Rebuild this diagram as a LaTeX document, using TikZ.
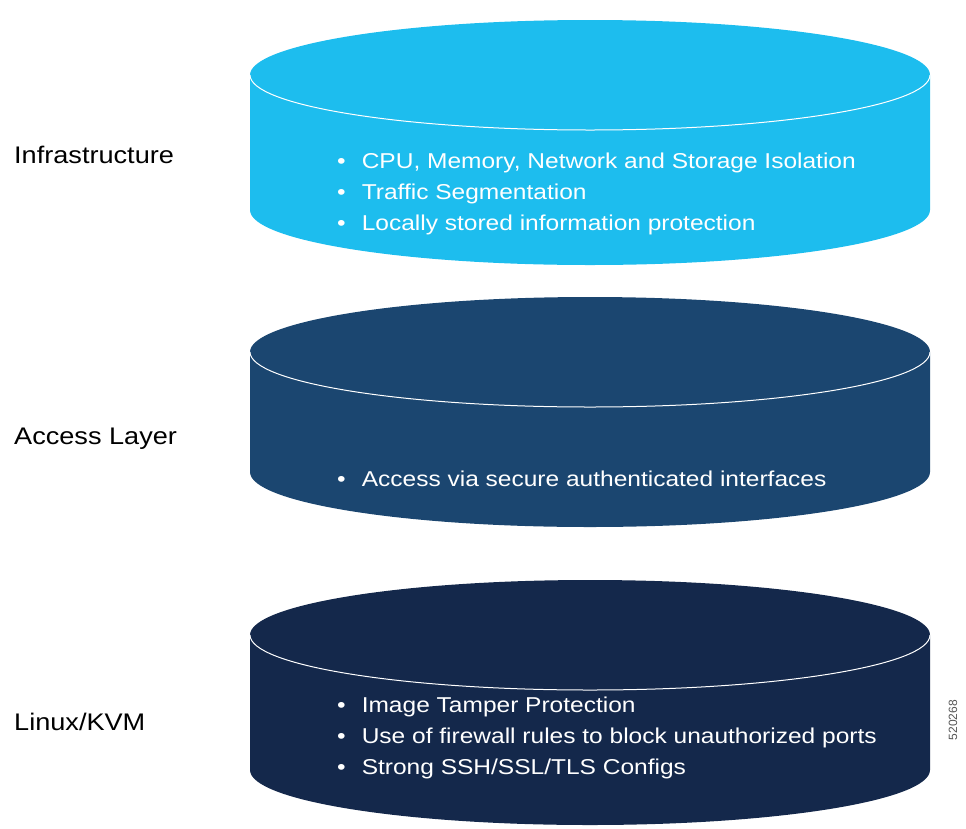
\documentclass[tikz,border=0pt]{standalone}
\usepackage{fontspec}
\setmainfont{Liberation Sans}
\newfontfamily\bulletfont[FakeStretch=1.14]{Liberation Sans}
\newfontfamily\labelfont[FakeStretch=1.13]{Liberation Sans}
\definecolor{cylA}{HTML}{1DBDEE}
\definecolor{cylB}{HTML}{1B4670}
\definecolor{cylC}{HTML}{14284B}
\definecolor{idgray}{HTML}{555555}
\newcommand\drawcyl[3]{%
  \fill[#3] (250,-#1) -- (250,-#2) arc[start angle=180,end angle=360,x radius=340,y radius=55]
     -- (930,-#1) arc[start angle=0,end angle=180,x radius=340,y radius=55] -- cycle;
  \draw[white,line width=1pt] (250,-#1) arc[start angle=180,end angle=360,x radius=340,y radius=55];
}
\tikzset{
  layerlabel/.style={anchor=west,inner sep=0pt,font=\labelfont\fontsize{24}{28}\selectfont,text=black},
  bulletline/.style={anchor=base west,inner sep=0pt,font=\bulletfont\fontsize{21.5}{25}\selectfont,text=white},
}
\begin{document}
\begin{tikzpicture}[x=1pt,y=1pt]
\useasboundingbox (0,0) rectangle (966,-828);
\drawcyl{75}{210}{cylA}
\drawcyl{352}{472}{cylB}
\drawcyl{635}{770}{cylC}
\node[layerlabel] (infra) at (14,-155) {Infrastructure};
\node[layerlabel] (access) at (14,-439) {Access Layer};
\node[layerlabel] (linux) at (14,-722) {Linux/KVM};
\node[bulletline] (i1) at (337,-168) {\textbullet\hspace{16pt}CPU, Memory, Network and Storage Isolation};
\node[bulletline] (i2) at (337,-199) {\textbullet\hspace{16pt}Traffic Segmentation};
\node[bulletline] (i3) at (337,-230) {\textbullet\hspace{16pt}Locally stored information protection};
\node[bulletline] (a1) at (337,-486) {\textbullet\hspace{16pt}Access via secure authenticated interfaces};
\node[bulletline] (l1) at (337,-712) {\textbullet\hspace{16pt}Image Tamper Protection};
\node[bulletline] (l2) at (337,-743) {\textbullet\hspace{16pt}Use of firewall rules to block unauthorized ports};
\node[bulletline] (l3) at (337,-774) {\textbullet\hspace{16pt}Strong SSH/SSL/TLS Configs};
\node[rotate=90,inner sep=0pt,font=\fontsize{12}{14}\selectfont,text=idgray] (fig) at (953,-720) {520268};
\end{tikzpicture}
\end{document}
